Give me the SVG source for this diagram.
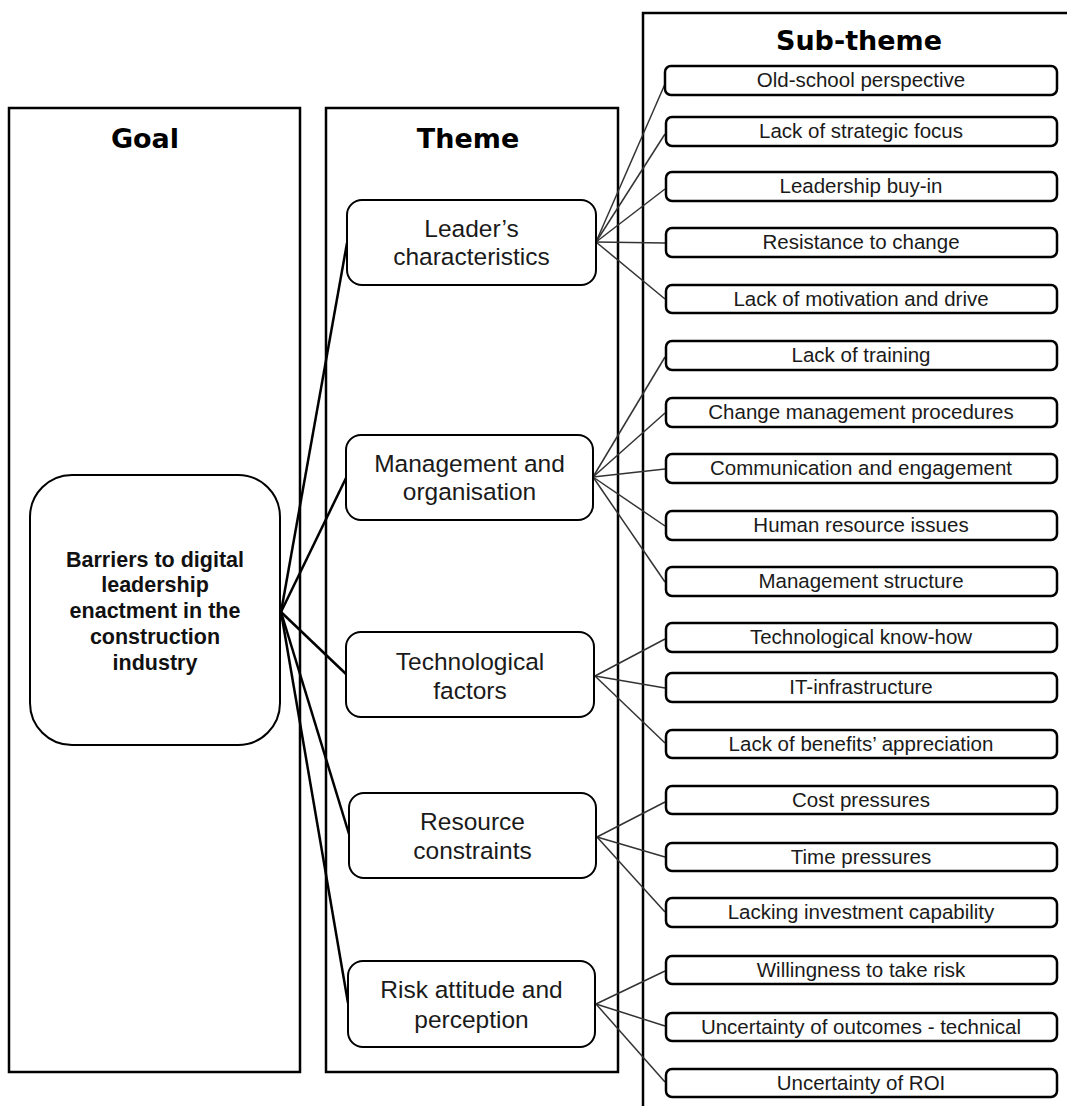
<svg xmlns="http://www.w3.org/2000/svg" width="1067" height="1106" viewBox="0 0 1067 1106">
<style>
.panel{fill:none;stroke:#000;stroke-width:2.5}
.title{font-family:"DejaVu Sans",Verdana,sans-serif;font-weight:bold;font-size:27px;fill:#000;text-anchor:middle}
.node{fill:#fff;stroke:#000;stroke-width:2}
.sub{fill:#fff;stroke:#000;stroke-width:2.5}
.goalt{font-family:"Liberation Sans",Arial,sans-serif;font-weight:bold;font-size:21.5px;fill:#111;text-anchor:middle}
.tt{font-family:"Liberation Sans",Arial,sans-serif;font-size:24.5px;fill:#1a1a1a;text-anchor:middle}
.st{font-family:"Liberation Sans",Arial,sans-serif;font-size:20.5px;fill:#1a1a1a;text-anchor:middle}
.c1{stroke:#000;stroke-width:2.5;fill:none}
.c2{stroke:#333;stroke-width:1.5;fill:none}
</style>
<rect width="1067" height="1106" fill="#fff"/>
<g id="panels">
<rect class="panel" x="9" y="108" width="291" height="964"/>
<rect class="panel" x="326" y="108" width="292" height="964"/>
<rect class="panel" x="643" y="13" width="500" height="1200"/>
<text class="title" x="145" y="148">Goal</text>
<text class="title" x="468" y="148">Theme</text>
<text class="title" x="859" y="50">Sub-theme</text>
</g>
<g id="connectors">
<line class="c1" x1="281" y1="612" x2="347" y2="243"/>
<line class="c1" x1="281" y1="612" x2="346" y2="478"/>
<line class="c1" x1="281" y1="612" x2="346" y2="674"/>
<line class="c1" x1="281" y1="612" x2="349" y2="834"/>
<line class="c1" x1="281" y1="612" x2="348" y2="1003"/>
<line class="c2" x1="596" y1="242" x2="665" y2="84"/>
<line class="c2" x1="596" y1="242" x2="665" y2="134"/>
<line class="c2" x1="596" y1="242" x2="665" y2="189"/>
<line class="c2" x1="596" y1="242" x2="665" y2="243"/>
<line class="c2" x1="596" y1="242" x2="665" y2="299"/>
<line class="c2" x1="593" y1="477" x2="665" y2="357"/>
<line class="c2" x1="593" y1="477" x2="665" y2="413"/>
<line class="c2" x1="593" y1="477" x2="665" y2="469"/>
<line class="c2" x1="593" y1="477" x2="665" y2="526"/>
<line class="c2" x1="593" y1="477" x2="665" y2="582"/>
<line class="c2" x1="595" y1="676" x2="665" y2="639"/>
<line class="c2" x1="595" y1="676" x2="665" y2="688"/>
<line class="c2" x1="595" y1="676" x2="665" y2="743"/>
<line class="c2" x1="597" y1="837" x2="665" y2="802"/>
<line class="c2" x1="597" y1="837" x2="665" y2="857"/>
<line class="c2" x1="597" y1="837" x2="665" y2="912"/>
<line class="c2" x1="596" y1="1004" x2="665" y2="971"/>
<line class="c2" x1="596" y1="1004" x2="665" y2="1026"/>
<line class="c2" x1="596" y1="1004" x2="665" y2="1082"/>
</g>
<g id="goal">
<rect class="node" x="30" y="475" width="250" height="270" rx="42"/>
<text class="goalt" x="155" y="567">Barriers to digital</text>
<text class="goalt" x="155" y="592">leadership</text>
<text class="goalt" x="155" y="618">enactment in the</text>
<text class="goalt" x="155" y="644">construction</text>
<text class="goalt" x="155" y="670">industry</text>
</g>
<g id="theme-leader">
<rect class="node" x="347" y="200" width="249" height="85" rx="15"/>
<text class="tt" x="471.5" y="237">Leader’s</text>
<text class="tt" x="471.5" y="265">characteristics</text>
</g>
<g id="theme-management">
<rect class="node" x="346" y="435" width="247" height="85" rx="15"/>
<text class="tt" x="469.5" y="472">Management and</text>
<text class="tt" x="469.5" y="500">organisation</text>
</g>
<g id="theme-technological">
<rect class="node" x="346" y="632" width="248" height="85" rx="15"/>
<text class="tt" x="470" y="670">Technological</text>
<text class="tt" x="470" y="699">factors</text>
</g>
<g id="theme-resource">
<rect class="node" x="349" y="793" width="247" height="85" rx="15"/>
<text class="tt" x="472.5" y="830">Resource</text>
<text class="tt" x="472.5" y="859">constraints</text>
</g>
<g id="theme-risk">
<rect class="node" x="348" y="961" width="247" height="86" rx="15"/>
<text class="tt" x="471.5" y="998">Risk attitude and</text>
<text class="tt" x="471.5" y="1028">perception</text>
</g>
<g id="sub-1"><rect class="sub" x="665" y="66" width="392" height="29" rx="6"/><text class="st" x="861" y="87">Old-school perspective</text></g>
<g id="sub-2"><rect class="sub" x="666" y="117" width="391" height="29" rx="6"/><text class="st" x="861" y="138">Lack of strategic focus</text></g>
<g id="sub-3"><rect class="sub" x="666" y="172" width="391" height="29" rx="6"/><text class="st" x="861" y="193">Leadership buy-in</text></g>
<g id="sub-4"><rect class="sub" x="666" y="228" width="391" height="29" rx="6"/><text class="st" x="861" y="249">Resistance to change</text></g>
<g id="sub-5"><rect class="sub" x="666" y="285" width="391" height="28" rx="6"/><text class="st" x="861" y="306">Lack of motivation and drive</text></g>
<g id="sub-6"><rect class="sub" x="666" y="341" width="391" height="29" rx="6"/><text class="st" x="861" y="362">Lack of training</text></g>
<g id="sub-7"><rect class="sub" x="666" y="398" width="391" height="29" rx="6"/><text class="st" x="861" y="419">Change management procedures</text></g>
<g id="sub-8"><rect class="sub" x="666" y="454" width="391" height="29" rx="6"/><text class="st" x="861" y="475">Communication and engagement</text></g>
<g id="sub-9"><rect class="sub" x="666" y="511" width="391" height="29" rx="6"/><text class="st" x="861" y="532">Human resource issues</text></g>
<g id="sub-10"><rect class="sub" x="666" y="567" width="391" height="29" rx="6"/><text class="st" x="861" y="588">Management structure</text></g>
<g id="sub-11"><rect class="sub" x="666" y="623" width="391" height="29" rx="6"/><text class="st" x="861" y="644">Technological know-how</text></g>
<g id="sub-12"><rect class="sub" x="666" y="673" width="391" height="29" rx="6"/><text class="st" x="861" y="694">IT-infrastructure</text></g>
<g id="sub-13"><rect class="sub" x="666" y="730" width="391" height="28" rx="6"/><text class="st" x="861" y="751">Lack of benefits’ appreciation</text></g>
<g id="sub-14"><rect class="sub" x="666" y="786" width="391" height="28" rx="6"/><text class="st" x="861" y="807">Cost pressures</text></g>
<g id="sub-15"><rect class="sub" x="666" y="843" width="391" height="28" rx="6"/><text class="st" x="861" y="864">Time pressures</text></g>
<g id="sub-16"><rect class="sub" x="666" y="898" width="391" height="29" rx="6"/><text class="st" x="861" y="919">Lacking investment capability</text></g>
<g id="sub-17"><rect class="sub" x="666" y="956" width="391" height="28" rx="6"/><text class="st" x="861" y="977">Willingness to take risk</text></g>
<g id="sub-18"><rect class="sub" x="666" y="1013" width="391" height="28" rx="6"/><text class="st" x="861" y="1034">Uncertainty of outcomes - technical</text></g>
<g id="sub-19"><rect class="sub" x="666" y="1069" width="391" height="28" rx="6"/><text class="st" x="861" y="1090">Uncertainty of ROI</text></g>
</svg>
